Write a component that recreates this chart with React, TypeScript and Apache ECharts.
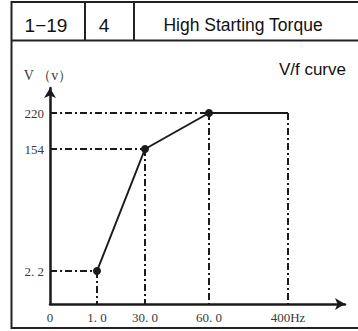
import React, { useEffect, useRef } from 'react';
import * as echarts from 'echarts';

// axis ticks (real values) and their printed labels
const freqTicks = [0, 1, 30, 60, 400];
const freqLabels = ['0', '1. 0', '30. 0', '60. 0', '400Hz'];
const voltTicks = [0, 2.2, 154, 220];
const voltLabels = ['', '2. 2', '154', '220'];
// V/f curve points
const curveFreq = [1, 30, 60, 400];
const curveVolt = [2.2, 154, 220, 220];
// schematic (non-linear) axis: display stop for each tick value
const freqStops = [0, 47, 95, 159, 238];
const voltStops = [0, 33, 155, 191];
// header cells
const headerCells = ['1−19', '4', 'High Starting Torque'];

const toStop = (v: number, ticks: number[], stops: number[]) => {
  const i = ticks.indexOf(v);
  if (i >= 0) return stops[i];
  for (let k = 0; k < ticks.length - 1; k++) {
    if (v >= ticks[k] && v <= ticks[k + 1]) {
      const t = (v - ticks[k]) / (ticks[k + 1] - ticks[k]);
      return stops[k] + t * (stops[k + 1] - stops[k]);
    }
  }
  return stops[stops.length - 1];
};
const fx = (v: number) => toStop(v, freqTicks, freqStops);
const fy = (v: number) => toStop(v, voltTicks, voltStops);

export default function App() {
  const ref = useRef<HTMLDivElement>(null);
  useEffect(() => {
    if (!ref.current) return;
    const chart = echarts.init(ref.current, null, { renderer: 'svg' });
    const dash = [7, 3, 2, 3];
    const guideStyle = { color: '#1a1a1a', width: 2, type: dash as any };
    const pts = curveFreq.map((f, i) => [fx(f), fy(curveVolt[i])]);
    const guides: any[] = [];
    pts.forEach((p, i) => {
      if (i < pts.length - 1) {
        guides.push([{ coord: [0, p[1]] }, { coord: [p[0], p[1]] }]);
      }
      guides.push([{ coord: [p[0], p[1]] }, { coord: [p[0], 0] }]);
    });
    const serif = 'Liberation Serif, DejaVu Serif, serif';
    const sans = 'Liberation Sans, Arial, sans-serif';
    const lineColor = '#1a1a1a';
    const labelColor = '#3a3a3a';
    chart.setOption({
      animation: false,
      grid: { left: 50, right: 13, top: 88, bottom: 27 },
      xAxis: {
        type: 'value',
        min: 0,
        max: 295,
        splitLine: { show: false },
        axisTick: { show: false },
        axisLine: {
          show: true,
          lineStyle: { color: lineColor, width: 2.5 },
          symbol: ['none', 'arrow'],
          symbolSize: [9, 10],
        },
        axisLabel: {
          customValues: freqTicks.map(fx),
          formatter: (v: number) => freqLabels[freqStops.indexOf(v)] ?? '',
          fontFamily: serif,
          fontSize: 13,
          color: labelColor,
          margin: 7,
        },
      },
      yAxis: {
        type: 'value',
        min: 0,
        max: 216,
        splitLine: { show: false },
        axisTick: { show: false },
        name: 'V （v）',
        nameLocation: 'end',
        nameGap: 6,
        nameTextStyle: {
          fontFamily: serif,
          fontSize: 14,
          color: labelColor,
          padding: [0, 4, 0, 0],
        },
        axisLine: {
          show: true,
          lineStyle: { color: lineColor, width: 2.5 },
          symbol: ['none', 'arrow'],
          symbolSize: [9, 10],
        },
        axisLabel: {
          customValues: voltTicks.slice(1).map(fy),
          formatter: (v: number) => voltLabels[voltStops.indexOf(v)] ?? '',
          fontFamily: serif,
          fontSize: 13,
          color: labelColor,
          margin: 6,
        },
      },
      series: [
        {
          type: 'line',
          data: pts.map((p, i) => ({
            value: p,
            symbol: i < pts.length - 1 ? 'circle' : 'none',
          })),
          symbolSize: 8,
          lineStyle: { color: lineColor, width: 2 },
          itemStyle: { color: lineColor },
          z: 5,
          markLine: {
            silent: true,
            symbol: 'none',
            label: { show: false },
            lineStyle: guideStyle,
            data: guides,
          },
        },
      ],
      graphic: [
        { type: 'line', shape: { x1: 11, y1: 2, x2: 358, y2: 2 }, style: { stroke: '#222', lineWidth: 2 } },
        { type: 'line', shape: { x1: 11, y1: 40.5, x2: 358, y2: 40.5 }, style: { stroke: '#222', lineWidth: 2 } },
        { type: 'line', shape: { x1: 11, y1: 328, x2: 358, y2: 328 }, style: { stroke: '#222', lineWidth: 2 } },
        { type: 'line', shape: { x1: 11.5, y1: 1, x2: 11.5, y2: 329 }, style: { stroke: '#222', lineWidth: 2 } },
        { type: 'line', shape: { x1: 85, y1: 1, x2: 85, y2: 41 }, style: { stroke: '#222', lineWidth: 2 } },
        { type: 'line', shape: { x1: 134, y1: 1, x2: 134, y2: 41 }, style: { stroke: '#222', lineWidth: 2 } },
        {
          type: 'text', x: 46, y: 25,
          style: { text: headerCells[0], fontFamily: sans, fontSize: 19, fill: '#111', align: 'center', verticalAlign: 'middle' },
        },
        {
          type: 'text', x: 104, y: 25,
          style: { text: headerCells[1], fontFamily: sans, fontSize: 19, fill: '#111', align: 'center', verticalAlign: 'middle' },
        },
        {
          type: 'text', x: 243, y: 25,
          style: { text: headerCells[2], fontFamily: sans, fontSize: 17.5, fill: '#111', align: 'center', verticalAlign: 'middle' },
        },
        {
          type: 'text', x: 346, y: 69,
          style: { text: 'V/f curve', fontFamily: sans, fontSize: 17, fill: '#111', align: 'right', verticalAlign: 'middle' },
        },
      ],
    });
    return () => chart.dispose();
  }, []);
  return (
    <div
      ref={ref}
      style={{ position: 'fixed', left: 0, top: 0, width: 358, height: 331, background: '#fff' }}
    />
  );
}
